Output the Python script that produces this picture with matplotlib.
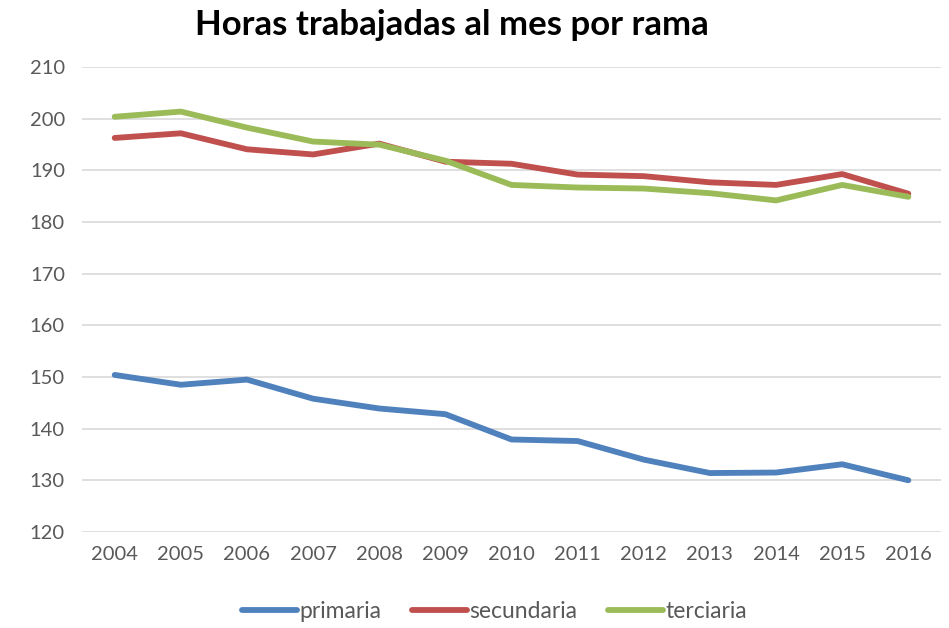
import numpy as np
import matplotlib.pyplot as plt

plt.rcParams['font.family'] = ['Lato', 'DejaVu Sans']

years = [2004, 2005, 2006, 2007, 2008, 2009, 2010, 2011, 2012, 2013, 2014, 2015, 2016]
primaria = [150.4, 148.5, 149.5, 145.8, 143.9, 142.8, 137.9, 137.6, 134.0, 131.4, 131.5, 133.1, 130.0]
secundaria = [196.3, 197.2, 194.1, 193.1, 195.2, 191.7, 191.3, 189.2, 188.9, 187.7, 187.2, 189.3, 185.5]
terciaria = [200.4, 201.4, 198.3, 195.6, 195.0, 191.9, 187.2, 186.7, 186.5, 185.6, 184.2, 187.2, 184.9]

series = [('primaria', primaria, '#4F81BD'),
          ('secundaria', secundaria, '#C0504D'),
          ('terciaria', terciaria, '#9BBB59')]

fig = plt.figure(figsize=(9.49, 6.28), dpi=100)
ax = fig.add_axes([0.086, 0.153, 0.906, 0.740])

x = np.arange(len(years))
for name, vals, col in series:
    ax.plot(x, vals, color=col, lw=4.2, label=name, solid_capstyle='round')

ax.set_xlim(-0.5, len(years) - 0.5)
ax.set_ylim(120, 210)
ax.set_yticks(range(120, 211, 10))
ax.set_xticks(x)
ax.set_xticklabels([str(y) for y in years])
ax.grid(axis='y', color='#D9D9D9', lw=1.2)
ax.set_axisbelow(True)
for s in ax.spines.values():
    s.set_visible(False)
ax.tick_params(length=0, labelsize=14.5, colors='#595959', pad=10)
ax.tick_params(axis='y', pad=12)

fig.text(0.476, 0.96, 'Horas trabajadas al mes por rama', ha='center', va='center',
         fontsize=25, fontweight='bold', color='black')

leg = fig.legend(loc='lower center', bbox_to_anchor=(0.521, -0.024), ncol=3, frameon=False,
                 fontsize=16.5, handlelength=2.4, columnspacing=1.35, handletextpad=0.1)
for t in leg.get_texts():
    t.set_color('#595959')

fig.savefig('out.png', dpi=100)
